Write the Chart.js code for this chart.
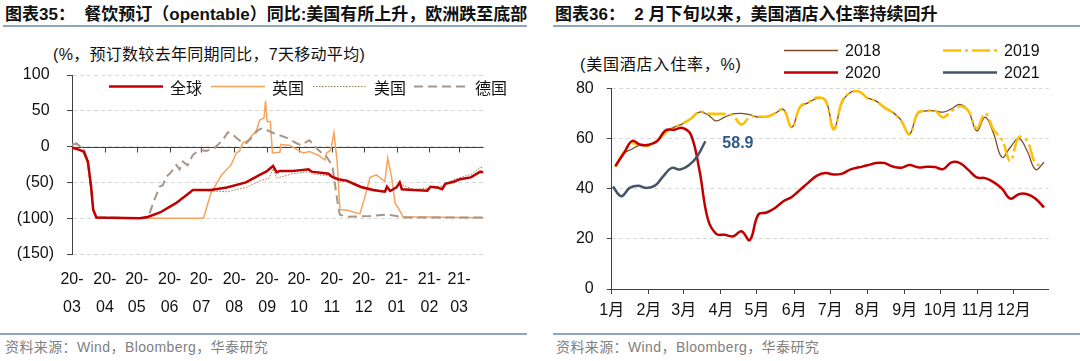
<!DOCTYPE html>
<html lang="zh-CN">
<head>
<meta charset="utf-8">
<title>图表35 / 图表36</title>
<script src="https://cdn.jsdelivr.net/npm/chart.js@4.4.1/dist/chart.umd.min.js"></script>
<style>
  html, body { margin: 0; padding: 0; background: #fff; }
  body { width: 1080px; height: 361px; position: relative; overflow: hidden;
         font-family: "Liberation Sans", "Noto Sans CJK SC", sans-serif; }
  .titulo { position: absolute; top: 5px; font-size: 17px; font-weight: bold; line-height: 20px;
            color: #111; white-space: nowrap; }
  .linha { position: absolute; height: 2px; background: #8DA6BE; }
  .fonte { position: absolute; top: 339px; font-size: 14px; line-height: 16px; color: #808080;
           white-space: nowrap; letter-spacing: 0.4px; }
  .unidade { position: absolute; font-size: 16px; line-height: 18px; color: #111; white-space: nowrap; }
  canvas { position: absolute; top: 0; }
</style>
</head>
<body>
<div class="titulo" style="left:5px">图表35：&nbsp; 餐饮预订（opentable）同比:美国有所上升，欧洲跌至底部</div>
<div class="titulo" style="left:555px">图表36：&nbsp; 2 月下旬以来，美国酒店入住率持续回升</div>
<div class="linha" style="left:3px; top:25px; width:524px"></div>
<div class="linha" style="left:553px; top:25px; width:527px"></div>
<div class="unidade" style="left:53px; top:46px; letter-spacing:0.3px">(%，预订数较去年同期同比，7天移动平均)</div>
<div class="unidade" style="left:580px; top:56px; letter-spacing:0.8px">(美国酒店入住率，%)</div>

<canvas id="grafico35" width="530" height="335" style="left:0"></canvas>
<canvas id="grafico36" width="540" height="335" style="left:540px"></canvas>

<div class="linha" style="left:0; top:333px; width:527px"></div>
<div class="linha" style="left:553px; top:333px; width:527px"></div>
<div class="fonte" style="left:5px">资料来源：Wind，Bloomberg，华泰研究</div>
<div class="fonte" style="left:556px">资料来源：Wind，Bloomberg，华泰研究</div>

<script>
// ---- 图表35：opentable 预订同比（天数从 2020-03-01 起算）----
const mesesOT = [0, 31, 61, 92, 122, 153, 184, 214, 245, 275, 306, 337, 365];
const rotulosOT = [['20-', '03'], ['20-', '04'], ['20-', '05'], ['20-', '06'], ['20-', '07'], ['20-', '08'],
  ['20-', '09'], ['20-', '10'], ['20-', '11'], ['20-', '12'], ['21-', '01'], ['21-', '02'], ['21-', '03']];

const diasGlobal = [0, 7, 11, 15, 18, 20, 23, 64, 72, 83, 98, 112, 114, 131, 146, 164, 177, 183, 189.6, 193,
  196, 208, 218, 223, 226, 242, 245, 251, 259, 272, 284, 295, 297, 300, 306, 309, 311, 322, 335, 338, 344,
  349, 352, 360, 366, 376, 385, 388];
const global = [-1.4, -4.6, -7, -21, -56, -88, -99, -100, -98, -92, -79, -63, -60.5, -60.5, -57, -50, -39.5,
  -35, -27, -36, -34, -34, -32.5, -31.6, -35, -38, -42, -45.5, -47.5, -56, -60.5, -63, -56, -62, -57, -50,
  -59.5, -60.5, -61.5, -56, -57, -59.5, -52, -49, -45.5, -43, -35, -36];

const diasUK = [0, 7, 11, 15, 18, 20, 23, 124, 131, 141, 150, 155, 158, 161, 166, 174, 177, 181, 182.5, 184,
  187, 189, 196, 197, 205, 218, 224, 232, 238.5, 240, 244, 247, 250, 252.6, 259.5, 271.5, 278, 281, 287, 295,
  297.7, 301.5, 304.6, 307.8, 312, 388];
const uk = [-1, -4, -8, -25, -60, -90, -100, -100, -65, -39.5, -25.6, -9, -6, 5, 9, 23, 37, 40, 64, 35, 35, -9,
  -8, 3, 2, -9, -7, -12, -18.6, -9, -5, 19.5, -21, -88, -89, -94, -60.5, -43, -39.5, -49, -16, -44, -79, -86,
  -98, -99.5];

const diasEUA = [0, 4, 8, 12, 15, 18, 20, 23, 64, 72, 83, 98, 112, 114, 131, 146, 164, 177, 186, 189.6, 193,
  208, 218, 223, 226, 242, 251, 259, 272, 284, 295, 297, 300, 309, 322, 335, 349, 360, 376, 385, 388];
const eua = [2, 6, 1, -6, -22, -57, -88, -99, -100, -98, -92, -79, -63, -61, -62, -63, -57, -48, -44, -31, -44,
  -38, -36, -35, -38, -41, -48, -49, -58, -62, -64, -58, -63, -52, -60, -58, -55, -46, -39, -29, -30];

const diasAlemanha = [0, 4, 8, 12, 15, 18, 20, 23, 71.5, 76, 82.5, 85.6, 88.8, 92, 95, 98.3, 101.5, 104.5, 109,
  114, 120, 126.6, 134.5, 142, 147, 151.8, 155, 159.7, 164.5, 169, 175.4, 180, 189.6, 202, 211.7, 216, 219,
  223.6, 226.8, 232, 240, 243, 245.5, 248, 251, 252.6, 259, 281, 297, 306, 311, 388];
const alemanha = [3, 4, 0, -6, -22, -57, -88, -99, -100, -81, -56, -54, -42, -38, -32.5, -25.6, -32, -21, -26,
  -11.6, -4.6, -6, -2, 9, 20, 17, 12, 7, 5, 12, 23, 26, 19, 12.6, 4.7, 2, 4.7, 9, 4.7, -4.6, -14, -21, -27,
  -53.5, -84, -95, -98, -97, -95, -97, -99, -99];

// ---- 图表36：美国酒店入住率（一年中的第几天）----
const mesesHotel = [0, 31, 60, 91, 121, 152, 182, 213, 244, 274, 305, 335];
const rotulosHotel = ['1月', '2月', '3月', '4月', '5月', '6月', '7月', '8月', '9月', '10月', '11月', '12月'];

const diasSemana = [3, 10, 17, 24, 31, 38, 45, 52, 59, 66, 73, 80, 87, 94, 101, 108, 115, 122, 129, 136, 143,
  150, 157, 164, 171, 178, 185, 192, 199, 206, 213, 220, 227, 234, 241, 248, 255, 262, 269, 276, 283, 290, 297,
  304, 311, 318, 325, 332, 339, 346, 353, 360];
const ocup2018 = [48.7, 54, 55.8, 57.5, 57.5, 59, 62.5, 64.5, 65.8, 67.8, 70.5, 69.5, 67, 68.5, 69.8, 70, 69.5,
  68.5, 68.7, 70, 71.6, 64.5, 72.5, 74.3, 76, 75.5, 64, 74.5, 78.4, 78.8, 76.2, 75, 72.5, 70.5, 67.3, 61.8, 70,
  71, 71, 70.5, 71.8, 73.6, 71, 63, 68.5, 62, 52.5, 56.5, 60, 55, 47.6, 50.5];
const ocup2019 = [48.7, 54.5, 58, 57.5, 57.2, 59.5, 62.5, 64.5, 66, 68, 70.7, 70, 69.8, 69.8, 69, 65.6, 68.5,
  68.8, 68.7, 70, 71.6, 64.3, 72.8, 74.5, 76.3, 75, 63.6, 75, 78.3, 78.7, 76, 75, 72.3, 70.3, 67, 61.6, 70.3, 71,
  71.2, 68.4, 71, 72.8, 71, 64, 70, 63.5, 59.5, 51, 60.5, 59, 50, 49.6];
const ocup2020 = [49, 54, 59, 57.5, 57.5, 59, 63.3, 63.5, 64.2, 61.5, 47.5, 28, 22, 21.6, 21, 23, 19.5, 29.6,
  30.5, 32.3, 35, 36.7, 39.6, 42.5, 45.2, 46.2, 45.6, 46, 47.7, 48.5, 49.3, 50.2, 50.2, 48.8, 48.3, 49.4, 48.5,
  48.7, 48.6, 47.8, 50.5, 50.2, 47.5, 44.5, 44.2, 42.6, 40, 36, 37.8, 37.8, 36, 32.5];
const dias2021 = [1, 8, 15, 22, 29, 36, 43, 50, 57, 64, 71, 78];
const ocup2021 = [40.8, 37, 40.3, 41.2, 40.3, 41.2, 45, 48.3, 47.6, 49.2, 52.7, 58.9];

const fonteBase = '"Liberation Sans", "Noto Sans CJK SC", sans-serif';
Chart.defaults.font.family = fonteBase;
Chart.defaults.font.size = 16;
Chart.defaults.color = '#111';

const pontos = (dias, valores) => dias.map((d, i) => ({ x: d, y: valores[i] }));
const corEixo = '#404040';

// legenda desenhada à mão com o estilo de cada dataset
const legendaManual = (itens) => ({
  id: 'legendaManual',
  afterDraw(chart) {
    const ctx = chart.ctx;
    itens.forEach((item) => {
      const ds = chart.data.datasets[item.ds];
      ctx.save();
      ctx.strokeStyle = ds.borderColor;
      ctx.lineWidth = ds.borderWidth;
      ctx.setLineDash(ds.borderDash || []);
      ctx.beginPath();
      ctx.moveTo(item.x, item.y);
      ctx.lineTo(item.x + 54, item.y);
      ctx.stroke();
      ctx.setLineDash([]);
      ctx.fillStyle = '#111';
      ctx.font = item.fonte;
      ctx.textBaseline = 'middle';
      ctx.fillText(ds.label, item.x + 61, item.y + 1);
      ctx.restore();
    });
  }
});

// linha do zero com marcas dos meses (gráfico 35)
const linhaZero = {
  id: 'linhaZero',
  beforeDatasetsDraw(chart) {
    const { ctx, chartArea, scales } = chart;
    const y0 = Math.round(scales.y.getPixelForValue(0)) + 0.5;
    ctx.save();
    ctx.strokeStyle = corEixo;
    ctx.lineWidth = 1;
    ctx.beginPath();
    ctx.moveTo(chartArea.left, y0);
    ctx.lineTo(chartArea.right, y0);
    scales.x.ticks.forEach((t) => {
      const x = Math.round(scales.x.getPixelForValue(t.value)) + 0.5;
      ctx.moveTo(x, y0);
      ctx.lineTo(x, y0 + 5);
    });
    ctx.stroke();
    ctx.restore();
  }
};

// rótulo do último ponto de 2021
const rotuloFinal = {
  id: 'rotuloFinal',
  afterDatasetsDraw(chart) {
    const meta = chart.getDatasetMeta(3);
    const ultimo = meta.data[meta.data.length - 1];
    const valor = ocup2021[ocup2021.length - 1];
    const ctx = chart.ctx;
    ctx.save();
    ctx.fillStyle = '#305A8C';
    ctx.font = 'bold 16px ' + fonteBase;
    ctx.textBaseline = 'middle';
    ctx.fillText(valor.toFixed(1), ultimo.x + 17, ultimo.y + 2);
    ctx.restore();
  }
};

new Chart(document.getElementById('grafico35'), {
  type: 'line',
  data: {
    datasets: [
      { label: '全球', data: pontos(diasGlobal, global), borderColor: '#C00000', borderWidth: 2.5, order: 0 },
      { label: '英国', data: pontos(diasUK, uk), borderColor: '#F7A35C', borderWidth: 1.5, order: 2 },
      { label: '美国', data: pontos(diasEUA, eua), borderColor: '#9B7B55', borderWidth: 1,
        borderDash: [1.5, 1.5], order: 3 },
      { label: '德国', data: pontos(diasAlemanha, alemanha), borderColor: '#A8968A', borderWidth: 2,
        borderDash: [9, 5], order: 1 }
    ]
  },
  options: {
    responsive: false,
    animation: false,
    layout: { padding: { top: 75, right: 46.5, left: 0, bottom: 0 } },
    elements: { point: { radius: 0 }, line: { tension: 0 } },
    plugins: { legend: { display: false }, tooltip: { enabled: false } },
    scales: {
      x: {
        type: 'linear', min: 0, max: 388,
        afterBuildTicks: (eixo) => { eixo.ticks = mesesOT.map((v) => ({ value: v })); },
        afterFit: (eixo) => { eixo.height = 81; },
        grid: { display: false, drawTicks: false },
        border: { display: false },
        ticks: { autoSkip: false, maxRotation: 0, padding: 11, font: { size: 16, lineHeight: 1.77 },
          callback: (v, i) => rotulosOT[i] }
      },
      y: {
        min: -150, max: 100,
        afterFit: (eixo) => { eixo.width = 72; },
        grid: { color: '#D9D9D9', drawTicks: true, tickLength: 5, tickColor: corEixo },
        border: { display: true, color: corEixo, width: 1, dash: [4, 3] },
        ticks: { stepSize: 50, padding: 13, callback: (v) => (v < 0 ? `(${-v})` : `${v} `) }
      }
    }
  },
  plugins: [linhaZero, legendaManual([
    { ds: 0, x: 109, y: 86.5, fonte: '16px "Noto Sans CJK SC"' },
    { ds: 1, x: 211, y: 86.5, fonte: '16px "Noto Sans CJK SC"' },
    { ds: 2, x: 313, y: 86.5, fonte: '16px "Noto Sans CJK SC"' },
    { ds: 3, x: 414, y: 86.5, fonte: '16px "Noto Sans CJK SC"' }
  ])]
});

new Chart(document.getElementById('grafico36'), {
  type: 'line',
  data: {
    datasets: [
      { label: '2018', data: pontos(diasSemana, ocup2018), borderColor: '#7B4B2A', borderWidth: 1.3, order: 3 },
      { label: '2019', data: pontos(diasSemana, ocup2019), borderColor: '#FFC000', borderWidth: 2.5,
        borderDash: [18, 4, 3, 4], order: 2 },
      { label: '2020', data: pontos(diasSemana, ocup2020), borderColor: '#C00000', borderWidth: 2.5, order: 1 },
      { label: '2021', data: pontos(dias2021, ocup2021), borderColor: '#44546A', borderWidth: 2.5, order: 0 }
    ]
  },
  options: {
    responsive: false,
    animation: false,
    layout: { padding: { top: 88.3, right: 31.2, left: 0, bottom: 0 } },
    elements: { point: { radius: 0 }, line: { tension: 0.4 } },
    plugins: { legend: { display: false }, tooltip: { enabled: false } },
    scales: {
      x: {
        type: 'linear', min: 0, max: 364,
        afterBuildTicks: (eixo) => { eixo.ticks = mesesHotel.map((v) => ({ value: v })); },
        afterFit: (eixo) => { eixo.height = 46; },
        grid: { display: true, drawOnChartArea: false, drawTicks: true, tickLength: 5, tickColor: corEixo },
        border: { display: true, color: corEixo, width: 1 },
        ticks: { autoSkip: false, maxRotation: 0, padding: 7, callback: (v, i) => rotulosHotel[i] }
      },
      y: {
        min: 0, max: 80,
        afterFit: (eixo) => { eixo.width = 71.7; },
        grid: { color: '#D9D9D9', drawTicks: true, tickLength: 5, tickColor: corEixo },
        border: { display: true, color: corEixo, width: 1, dash: [4, 3] },
        ticks: { stepSize: 20, padding: 13 }
      }
    }
  },
  plugins: [rotuloFinal, legendaManual([
    { ds: 0, x: 244, y: 50.5, fonte: '16px ' + fonteBase },
    { ds: 1, x: 403, y: 50.5, fonte: '16px ' + fonteBase },
    { ds: 2, x: 244, y: 72.5, fonte: '16px ' + fonteBase },
    { ds: 3, x: 403, y: 72.5, fonte: '16px ' + fonteBase }
  ])]
});
</script>
</body>
</html>
